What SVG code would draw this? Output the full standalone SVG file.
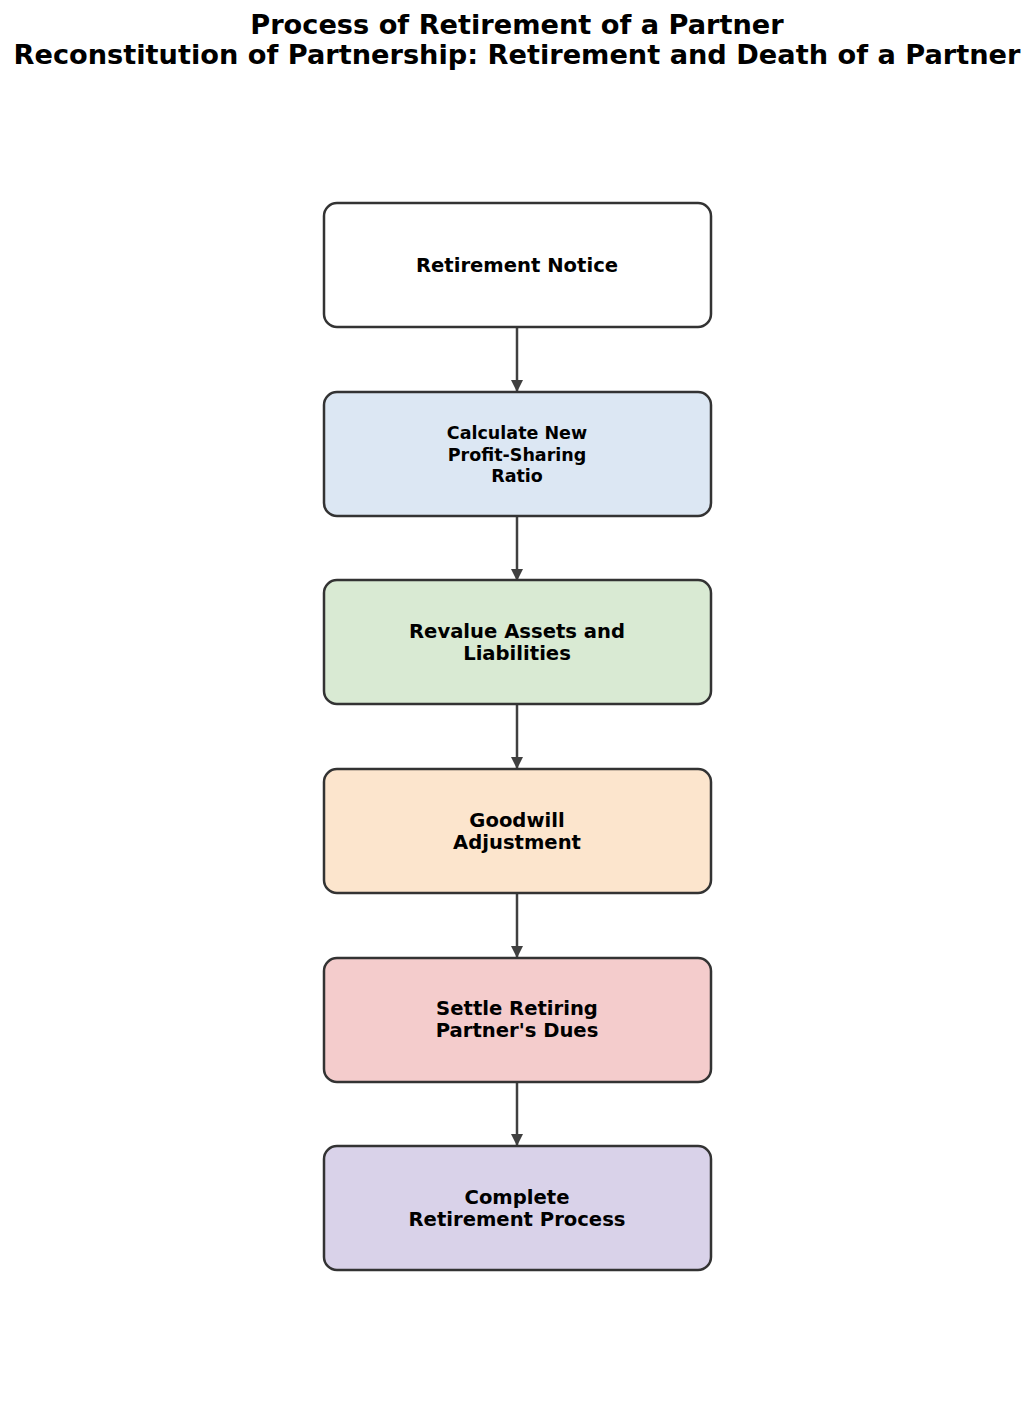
<svg xmlns="http://www.w3.org/2000/svg" width="1034" height="1413" viewBox="0 0 1034 1413">
<style>
.t{font-family:"DejaVu Sans",sans-serif;font-weight:bold;fill:#000;text-anchor:middle}
.b{stroke:#333;stroke-width:2.5}
.c{stroke:#404040;stroke-width:2.5;fill:none}
</style>
<defs><marker id="a" markerWidth="14" markerHeight="14" refX="12" refY="6" orient="auto" markerUnits="userSpaceOnUse"><path d="M0,0 L12,6 L0,12 Z" fill="#404040"/></marker></defs>
<rect width="1034" height="1413" fill="#fff"/>
<text class="t" x="517" y="34" font-size="27.2">Process of Retirement of a Partner</text>
<text class="t" x="517" y="64" font-size="27.2">Reconstitution of Partnership: Retirement and Death of a Partner</text>
<g id="connectors">
<line class="c" x1="517" y1="327" x2="517" y2="392" marker-end="url(#a)"/>
<line class="c" x1="517" y1="516" x2="517" y2="581" marker-end="url(#a)"/>
<line class="c" x1="517" y1="704" x2="517" y2="769" marker-end="url(#a)"/>
<line class="c" x1="517" y1="893" x2="517" y2="958" marker-end="url(#a)"/>
<line class="c" x1="517" y1="1081" x2="517" y2="1146" marker-end="url(#a)"/>
</g>
<g id="n1"><rect class="b" x="324" y="203" width="387" height="124" rx="13" fill="#fff"/><text class="t" x="517" y="272" font-size="19.6">Retirement Notice</text></g>
<g id="n2"><rect class="b" x="324" y="392" width="387" height="124" rx="13" fill="#dce7f3"/><text class="t" x="517" y="439" font-size="17.5">Calculate New</text><text class="t" x="517" y="461" font-size="17.5">Profit-Sharing</text><text class="t" x="517" y="482" font-size="17.5">Ratio</text></g>
<g id="n3"><rect class="b" x="324" y="580" width="387" height="124" rx="13" fill="#d9ead3"/><text class="t" x="517" y="638" font-size="19.6">Revalue Assets and</text><text class="t" x="517" y="660" font-size="19.6">Liabilities</text></g>
<g id="n4"><rect class="b" x="324" y="769" width="387" height="124" rx="13" fill="#fce5cd"/><text class="t" x="517" y="827" font-size="19.6">Goodwill</text><text class="t" x="517" y="849" font-size="19.6">Adjustment</text></g>
<g id="n5"><rect class="b" x="324" y="958" width="387" height="124" rx="13" fill="#f4cccc"/><text class="t" x="517" y="1015" font-size="19.6">Settle Retiring</text><text class="t" x="517" y="1037" font-size="19.6">Partner's Dues</text></g>
<g id="n6"><rect class="b" x="324" y="1146" width="387" height="124" rx="13" fill="#d9d2e9"/><text class="t" x="517" y="1204" font-size="19.6">Complete</text><text class="t" x="517" y="1226" font-size="19.6">Retirement Process</text></g>
</svg>
